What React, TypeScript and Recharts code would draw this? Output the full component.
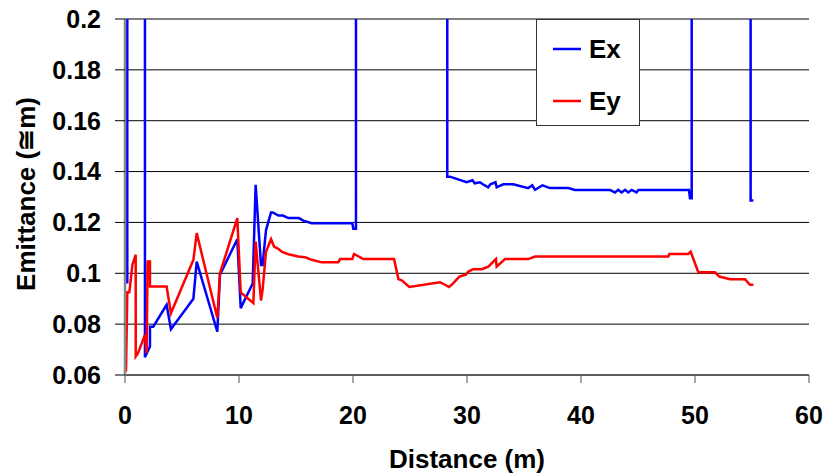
import React from 'react';
import { LineChart, Line, XAxis, YAxis, CartesianGrid, Legend } from 'recharts';

// Ex: horizontal emittance (off-scale stretches above 0.2 are clipped)
const exDistance = [
  0.2, 0.2, 1.75, 1.75, 2.19, 2.19, 2.48, 3.65, 4.03, 6.0, 6.29, 8.1, 8.33, 9.85, 10.15, 11.2, 11.46,
  11.93, 12.07, 12.37, 12.81, 12.97, 13.45, 13.84, 14.33, 15.26, 15.64, 16.38, 19.94, 20.03, 20.26,
  20.26, 28.27, 28.27, 28.5, 29.97, 30.48, 30.68, 31.14, 31.39, 31.86, 32.05, 32.5, 32.6, 33.18,
  34.06, 35.37, 35.72, 35.97, 36.62, 37.28, 38.89, 39.47, 42.54, 42.98, 43.27, 43.57, 43.86, 44.15,
  44.44, 44.88, 45.03, 49.47, 49.56, 49.71, 49.71, 54.88, 54.88, 55.12,
];
const exValues = [
  0.096, 0.25, 0.25, 0.067, 0.0712, 0.079, 0.079, 0.0876, 0.078, 0.09, 0.1046, 0.077, 0.0994, 0.1134,
  0.0863, 0.096, 0.1348, 0.1033, 0.1033, 0.117, 0.1239, 0.1239, 0.1227, 0.1227, 0.1217, 0.1217,
  0.1207, 0.1197, 0.1197, 0.1175, 0.1175, 0.25, 0.25, 0.138, 0.138, 0.1358, 0.1366, 0.1354, 0.1358,
  0.135, 0.1338, 0.135, 0.1358, 0.1338, 0.135, 0.135, 0.1335, 0.1346, 0.1328, 0.1346, 0.1335,
  0.1335, 0.1328, 0.1328, 0.1318, 0.1328, 0.1318, 0.1328, 0.1318, 0.1328, 0.1318, 0.1328, 0.1328,
  0.1295, 0.1295, 0.25, 0.25, 0.1286, 0.1286,
];

// Ey: vertical emittance
const eyDistance = [
  0.09, 0.2, 0.38, 0.65, 0.94, 0.94, 1.14, 1.75, 1.9, 1.98, 2.19, 2.19, 3.65, 4.03, 6.0, 6.29, 8.1,
  8.33, 9.85, 10.15, 11.26, 11.46, 11.93, 12.07, 12.37, 12.81, 13.07, 13.45, 13.74, 14.33, 15.2,
  15.8, 16.38, 17.25, 18.71, 18.87, 19.94, 20.09, 20.9, 23.6, 23.98, 24.27, 24.94, 27.63, 28.07,
  28.42, 28.74, 29.33, 29.91, 30.12, 30.55, 31.29, 31.87, 32.54, 32.6, 33.33, 35.38, 35.96, 47.66,
  47.75, 49.41, 49.62, 50.29, 51.75, 52.13, 53.07, 54.39, 54.82, 55.12,
];
const eyValues = [
  0.0614, 0.0925, 0.0925, 0.1033, 0.1073, 0.0673, 0.0686, 0.0758, 0.0686, 0.1046, 0.1046, 0.0948,
  0.0948, 0.0843, 0.1053, 0.1158, 0.0824, 0.1, 0.1217, 0.0925, 0.0883, 0.1125, 0.0893, 0.0935,
  0.1085, 0.1134, 0.1105, 0.1096, 0.1085, 0.1075, 0.1066, 0.1063, 0.1053, 0.1043, 0.1043, 0.1056,
  0.1056, 0.1076, 0.1056, 0.1056, 0.0977, 0.0972, 0.0946, 0.0965, 0.0955, 0.0946, 0.0958, 0.0987,
  0.0995, 0.1007, 0.1016, 0.1016, 0.1026, 0.1056, 0.1026, 0.1056, 0.1056, 0.1066, 0.1066, 0.1076,
  0.1076, 0.1085, 0.1004, 0.1004, 0.0987, 0.0977, 0.0977, 0.0955, 0.0955,
];

const xTicks = [0, 10, 20, 30, 40, 50, 60];
const yTicks = [0.06, 0.08, 0.1, 0.12, 0.14, 0.16, 0.18, 0.2];

const exData = exDistance.map((d, i) => ({ distance: d, value: exValues[i] }));
const eyData = eyDistance.map((d, i) => ({ distance: d, value: eyValues[i] }));

const FONT = '"Liberation Sans", Arial, sans-serif';

const YTitle = (props: any) => {
  const { viewBox } = props;
  const cx = 26;
  const cy = viewBox.y + viewBox.height / 2 - 3;
  return (
    <text
      x={cx}
      y={cy}
      transform={`rotate(-90 ${cx} ${cy})`}
      textAnchor="middle"
      dominantBaseline="central"
      fontFamily={FONT}
      fontWeight="bold"
      fontSize={26}
      fill="#000"
    >
      Emittance (≅m)
    </text>
  );
};

const LegendBox = ({ payload }: any) => (
  <div
    style={{
      width: 104,
      height: 107,
      boxSizing: 'border-box',
      border: '1px solid #333',
      background: '#fff',
      fontFamily: FONT,
      fontWeight: 'bold',
      fontSize: 26,
      paddingTop: 9,
    }}
  >
    {(payload || []).map((p: any) => (
      <div key={p.value} style={{ display: 'flex', alignItems: 'center', height: 40, marginBottom: 12 }}>
        <svg width={52} height={10} style={{ flex: 'none' }}>
          <line x1={16} x2={44} y1={5} y2={5} stroke={p.color} strokeWidth={2.5} />
        </svg>
        <span style={{ lineHeight: '40px' }}>{p.value}</span>
      </div>
    ))}
  </div>
);

const App: React.FC = () => {
  return (
    <div style={{ position: 'absolute', left: 0, top: 0, width: 828, height: 476, background: '#fff' }}>
      <LineChart width={828} height={476} margin={{ top: 19, right: 19, left: 45, bottom: 0 }}>
        <CartesianGrid vertical={false} stroke="#000" strokeWidth={1} />
        <XAxis
          dataKey="distance"
          type="number"
          domain={[0, 60]}
          ticks={xTicks}
          allowDuplicatedCategory={false}
          height={101}
          tickSize={8}
          tickMargin={23}
          axisLine={{ stroke: '#555', strokeWidth: 1.5 }}
          tickLine={{ stroke: '#555' }}
          tick={{ fill: '#000', fontSize: 25, fontWeight: 'bold', fontFamily: FONT }}
          label={{
            value: 'Distance (m)',
            position: 'insideBottom',
            offset: 8,
            fill: '#000',
            fontSize: 26,
            fontWeight: 'bold',
            fontFamily: FONT,
          }}
        />
        <YAxis
          type="number"
          domain={[0.06, 0.2]}
          ticks={yTicks}
          allowDataOverflow
          width={80}
          tickSize={10}
          tickMargin={14}
          axisLine={{ stroke: '#888', strokeWidth: 2.5 }}
          tickLine={{ stroke: '#000' }}
          tickFormatter={(v: number) => String(+v.toFixed(2))}
          tick={{ fill: '#000', fontSize: 25, fontWeight: 'bold', fontFamily: FONT }}
          label={<YTitle />}
        />
        <Legend
          layout="horizontal"
          verticalAlign="middle"
          align="center"
          content={<LegendBox />}
          wrapperStyle={{ position: 'absolute', left: 536, top: 19, width: 104, height: 107 }}
        />
        <Line
          data={exData}
          dataKey="value"
          name="Ex"
          type="linear"
          stroke="#0000ff"
          strokeWidth={2.5}
          dot={false}
          isAnimationActive={false}
        />
        <Line
          data={eyData}
          dataKey="value"
          name="Ey"
          type="linear"
          stroke="#ff0000"
          strokeWidth={2.5}
          dot={false}
          isAnimationActive={false}
        />
      </LineChart>
    </div>
  );
};

export default App;
